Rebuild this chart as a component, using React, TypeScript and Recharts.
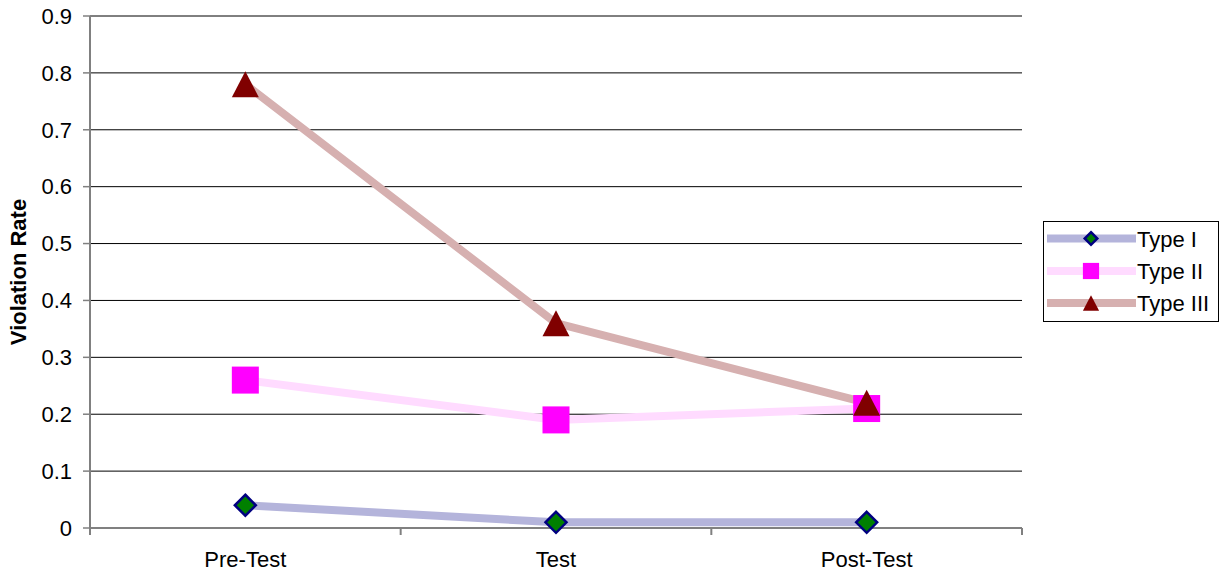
import React from 'react';
import { LineChart, Line, XAxis, YAxis, CartesianGrid, Legend } from 'recharts';

// Test phases along the x axis
const categories = ['Pre-Test', 'Test', 'Post-Test'];

// Violation rate per phase for each violation type
const typeI = [0.04, 0.01, 0.01];
const typeII = [0.26, 0.19, 0.21];
const typeIII = [0.78, 0.36, 0.22];

const seriesNames = ['Type I', 'Type II', 'Type III'];
const yTicks = [0, 0.1, 0.2, 0.3, 0.4, 0.5, 0.6, 0.7, 0.8, 0.9];
const yLabel = 'Violation Rate';

const FONT = '"Liberation Sans", Arial, sans-serif';
const FONT_SIZE = 22;

// Each category sits in the middle of its slot; slot edges carry the tick marks.
const data = categories.map((name, i) => ({
  pos: i + 0.5,
  name,
  typeI: typeI[i],
  typeII: typeII[i],
  typeIII: typeIII[i],
}));

const xTicks: number[] = [];
for (let i = 0; i <= categories.length; i++) {
  xTicks.push(i);
  if (i < categories.length) xTicks.push(i + 0.5);
}

const styles = [
  { key: 'typeI', line: '#B4B4DB', marker: 'diamond', fill: '#008000', stroke: '#000080' },
  { key: 'typeII', line: '#FFDBFF', marker: 'square', fill: '#FF00FF', stroke: 'none' },
  { key: 'typeIII', line: '#D6B0B0', marker: 'triangle', fill: '#800000', stroke: 'none' },
];

function Marker({
  kind,
  cx,
  cy,
  fill,
  stroke,
  scale = 1,
}: {
  kind: string;
  cx: number;
  cy: number;
  fill: string;
  stroke: string;
  scale?: number;
}) {
  if (kind === 'diamond') {
    const r = 10.5 * scale;
    return (
      <polygon
        points={`${cx},${cy - r} ${cx + r},${cy} ${cx},${cy + r} ${cx - r},${cy}`}
        fill={fill}
        stroke={stroke}
        strokeWidth={2.5}
      />
    );
  }
  if (kind === 'square') {
    const h = 13.5 * scale;
    return <rect x={cx - h} y={cy - h} width={h * 2} height={h * 2} fill={fill} />;
  }
  const w = 13.5 * scale;
  const h = 13 * scale;
  return <polygon points={`${cx},${cy - h} ${cx + w},${cy + h} ${cx - w},${cy + h}`} fill={fill} />;
}

function makeDot(kind: string, fill: string, stroke: string) {
  return (props: any) => {
    const { cx, cy, index } = props;
    if (cx == null || cy == null) return <g key={index} />;
    return (
      <g key={`${kind}-${index}`}>
        <Marker kind={kind} cx={cx} cy={cy} fill={fill} stroke={stroke} />
      </g>
    );
  };
}

function XTick(props: any) {
  const { x, y, payload } = props;
  const v = payload.value as number;
  if (Number.isInteger(v)) {
    return <line x1={x} y1={y} x2={x} y2={y + 7} stroke="#808080" strokeWidth={2} />;
  }
  return (
    <text x={x} y={y + 39} textAnchor="middle" fontSize={FONT_SIZE} fontFamily={FONT} fill="#000">
      {categories[Math.floor(v)]}
    </text>
  );
}

function LegendBox() {
  const rows = [16.5, 49, 81];
  return (
    <div
      style={{
        width: 176,
        height: 101,
        border: '1px solid #000',
        boxSizing: 'border-box',
        background: '#fff',
      }}
    >
      <svg width={174} height={99} style={{ display: 'block' }}>
        {styles.map((s, i) => (
          <g key={s.key}>
            <line x1={3} y1={rows[i]} x2={92} y2={rows[i]} stroke={s.line} strokeWidth={8} />
            <Marker kind={s.marker} cx={47} cy={rows[i]} fill={s.fill} stroke={s.stroke} scale={0.6} />
            <text x={93} y={rows[i] + 8} fontSize={FONT_SIZE} fontFamily={FONT} fill="#000">
              {seriesNames[i]}
            </text>
          </g>
        ))}
      </svg>
    </div>
  );
}

export default function App() {
  return (
    <div style={{ position: 'absolute', left: 0, top: 0, width: 1220, height: 571, background: '#fff' }}>
      <LineChart width={1220} height={571} data={data} margin={{ top: 16, right: 198, bottom: 0, left: 0 }}>
        <CartesianGrid horizontal vertical={false} stroke="#000" strokeWidth={1} />
        <XAxis
          dataKey="pos"
          type="number"
          domain={[0, categories.length]}
          ticks={xTicks}
          interval={0}
          height={43}
          tickSize={0}
          tickMargin={0}
          tickLine={false}
          axisLine={{ stroke: '#808080', strokeWidth: 2 }}
          tick={<XTick />}
        />
        <YAxis
          type="number"
          domain={[0, 0.9]}
          ticks={yTicks}
          interval={0}
          width={90}
          tickSize={7}
          tickMargin={11}
          axisLine={{ stroke: '#808080', strokeWidth: 2 }}
          tickLine={{ stroke: '#808080', strokeWidth: 1.5 }}
          tick={{ fill: '#000', fontSize: FONT_SIZE, fontFamily: FONT }}
          tickFormatter={(v: number) => String(v)}
          label={{
            value: yLabel,
            content: () => (
              <text
                x={26}
                y={272}
                transform="rotate(-90, 26, 272)"
                textAnchor="middle"
                fontSize={FONT_SIZE}
                fontWeight="bold"
                fontFamily={FONT}
                fill="#000"
              >
                {yLabel}
              </text>
            ),
          }}
        />
        <Legend
          layout="horizontal"
          verticalAlign="middle"
          align="center"
          wrapperStyle={{ left: 1043, top: 221, width: 176, height: 101 }}
          content={() => <LegendBox />}
        />
        {styles.map((s, i) => (
          <Line
            key={`line-${s.key}`}
            dataKey={s.key}
            name={seriesNames[i]}
            stroke={s.line}
            strokeWidth={8}
            dot={false}
            activeDot={false}
            isAnimationActive={false}
          />
        ))}
        {styles.map((s) => (
          <Line
            key={`dots-${s.key}`}
            dataKey={s.key}
            stroke="none"
            legendType="none"
            dot={makeDot(s.marker, s.fill, s.stroke)}
            activeDot={false}
            isAnimationActive={false}
          />
        ))}
      </LineChart>
    </div>
  );
}
